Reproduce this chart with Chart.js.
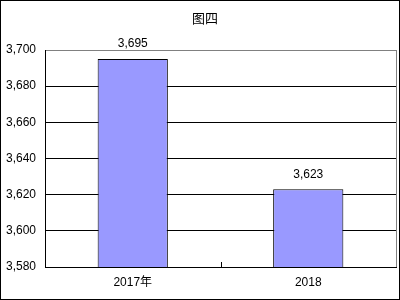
<!DOCTYPE html>
<html>
<head>
<meta charset="utf-8">
<script src="https://cdn.jsdelivr.net/npm/chart.js@4"></script>
<style>
html,body{margin:0;padding:0;background:#fff;}
canvas{display:block;}
</style>
</head>
<body>
<canvas id="c" width="400" height="300"></canvas>
<script>
const categories = ['2017年', '2018'];
const values = [3695, 3623];
const yTicks = [3580, 3600, 3620, 3640, 3660, 3680, 3700];
const titleText = '图四';

const FONT = "'Liberation Sans', 'Noto Sans CJK SC', sans-serif";
const fmt = v => Number(v).toLocaleString('en-US');

const decor = {
  id: 'decor',
  afterLayout(chart) {
    const t = chart.titleBlock;
    if (t) { t.left += 7; t.right += 7; }
  },
  beforeDraw(chart) {
    const ctx = chart.ctx, a = chart.chartArea;
    ctx.save();
    ctx.fillStyle = '#fff';
    ctx.fillRect(0, 0, chart.width, chart.height);
    ctx.strokeStyle = '#808080';
    ctx.lineWidth = 1;
    ctx.strokeRect(Math.round(a.left) + 0.5, Math.round(a.top) + 0.5, Math.round(a.right - a.left), Math.round(a.bottom - a.top));
    ctx.restore();
  },
  afterDraw(chart) {
    const ctx = chart.ctx, a = chart.chartArea, xs = chart.scales.x;
    ctx.save();
    ctx.strokeStyle = '#000';
    ctx.lineWidth = 1;
    ctx.strokeRect(0.5, 0.5, chart.width - 1, chart.height - 1);
    for (let i = 1; i < categories.length; i++) {
      const x = Math.round((xs.getPixelForTick(i - 1) + xs.getPixelForTick(i)) / 2) + 0.5;
      ctx.beginPath();
      ctx.moveTo(x, a.bottom);
      ctx.lineTo(x, a.bottom - 5);
      ctx.stroke();
    }
    const meta = chart.getDatasetMeta(0);
    ctx.fillStyle = '#000';
    ctx.font = '12px ' + FONT;
    ctx.textAlign = 'center';
    ctx.textBaseline = 'middle';
    meta.data.forEach((bar, i) => {
      ctx.fillText(fmt(values[i]), bar.x, bar.y - 15);
    });
    ctx.restore();
  }
};

new Chart(document.getElementById('c'), {
  type: 'bar',
  data: {
    labels: categories,
    datasets: [{
      data: values,
      backgroundColor: '#9999FF',
      borderColor: '#000',
      borderWidth: 1,
      categoryPercentage: 1,
      barPercentage: 0.4
    }]
  },
  options: {
    responsive: false,
    animation: false,
    devicePixelRatio: 1,
    layout: { padding: { left: 0, right: 4, top: 0, bottom: 0 } },
    plugins: {
      legend: { display: false },
      tooltip: { enabled: false },
      title: {
        display: true,
        text: titleText,
        color: '#000',
        font: { family: FONT, size: 13, weight: 'normal' },
        padding: { top: 12, bottom: 22.4 }
      }
    },
    scales: {
      x: {
        offset: true,
        grid: { display: false, drawTicks: false },
        border: { display: true, color: '#000', width: 1 },
        ticks: { color: '#000', font: { family: FONT, size: 12 }, padding: 8, maxRotation: 0 },
        afterFit(s) { s.height = 33; }
      },
      y: {
        min: 3580,
        max: 3700,
        afterBuildTicks(s) { s.ticks = yTicks.map(v => ({ value: v })); },
        grid: {
          drawTicks: false,
          color: ctx => (ctx.tick && ctx.tick.value === 3700) ? '#808080' : '#000',
          lineWidth: 1
        },
        border: { display: true, color: '#000', width: 1 },
        ticks: {
          color: '#000',
          font: { family: FONT, size: 12 },
          padding: 9,
          callback: v => fmt(v)
        },
        afterFit(s) { s.width = 45; }
      }
    }
  },
  plugins: [decor]
});
</script>
</body>
</html>
